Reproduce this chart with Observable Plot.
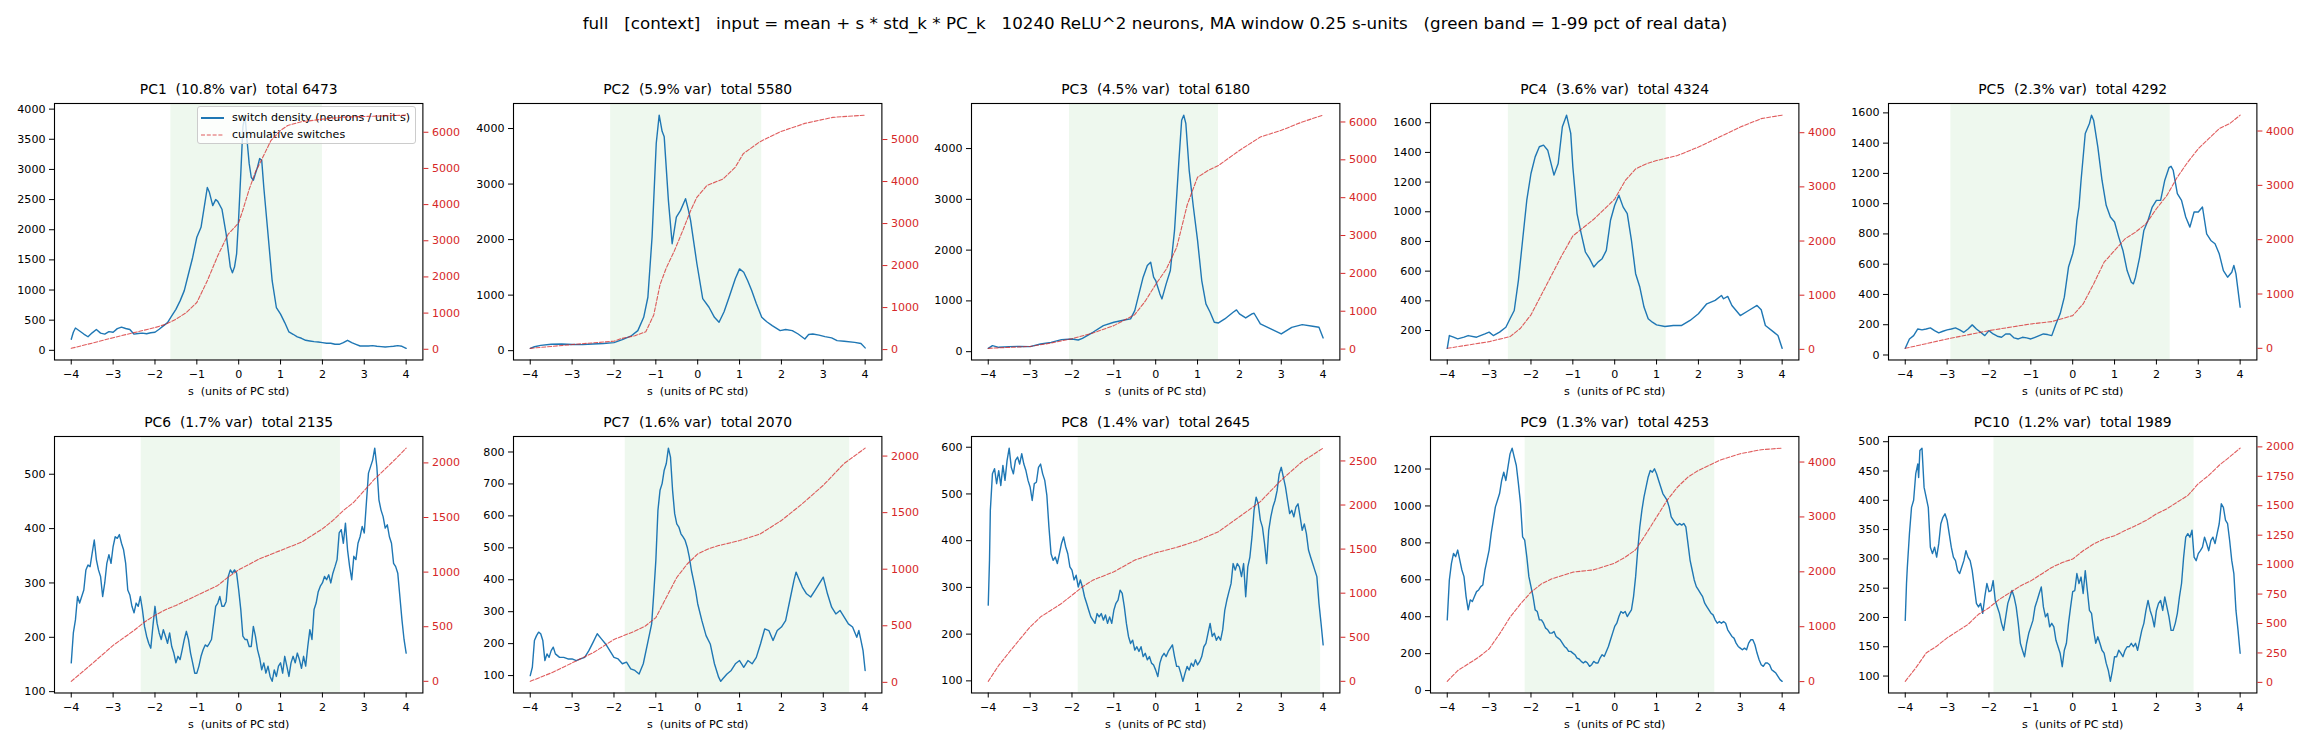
<!DOCTYPE html>
<html><head><meta charset="utf-8">
<script src="https://cdn.jsdelivr.net/npm/d3@7"></script>
<script src="https://cdn.jsdelivr.net/npm/@observablehq/plot@0.6"></script>
<style>
body{margin:0;background:#fff;font-family:"DejaVu Sans",sans-serif;}
#page{position:relative;width:2310px;height:748px;overflow:hidden;background:#fff;}
#title{position:absolute;left:0;width:2310px;top:13px;line-height:20px;text-align:center;font-size:16.7px;white-space:pre;color:#000;}
.holder{position:absolute;}
#legend{position:absolute;left:197px;top:106px;width:217px;height:36px;background:rgba(255,255,255,0.8);border:1px solid #cccccc;border-radius:3px;font-size:11.1px;color:#000;}
#legend .row{position:absolute;left:0;height:14px;line-height:14px;white-space:pre;}
#legend svg{position:absolute;left:3px;top:2px;}
#legend span{position:absolute;left:34px;top:0;}
</style></head><body>
<div id="page"><div id="title">full   [context]   input = mean + s * std_k * PC_k   10240 ReLU^2 neurons, MA window 0.25 s-units   (green band = 1-99 pct of real data)</div></div>
<script>
const titles = ["PC1  (10.8% var)  total 6473","PC2  (5.9% var)  total 5580","PC3  (4.5% var)  total 6180","PC4  (3.6% var)  total 4324","PC5  (2.3% var)  total 4292","PC6  (1.7% var)  total 2135","PC7  (1.6% var)  total 2070","PC8  (1.4% var)  total 2645","PC9  (1.3% var)  total 4253","PC10  (1.2% var)  total 1989"];
const xLabel = "s  (units of PC std)";
const sTicks = [-4,-3,-2,-1,0,1,2,3,4];
const legendLabels = ["switch density (neurons / unit s)","cumulative switches"];
const bands = [[-1.62,2.0],[-2.08,1.53],[-2.06,1.50],[-2.54,1.23],[-2.91,2.33],[-2.33,2.43],[-1.73,3.63],[-1.85,3.94],[-2.14,2.39],[-1.88,2.90]];
const leftTicks = [
 [0,500,1000,1500,2000,2500,3000,3500,4000],
 [0,1000,2000,3000,4000],
 [0,1000,2000,3000,4000],
 [200,400,600,800,1000,1200,1400,1600],
 [0,200,400,600,800,1000,1200,1400,1600],
 [100,200,300,400,500],
 [100,200,300,400,500,600,700,800],
 [100,200,300,400,500,600],
 [0,200,400,600,800,1000,1200],
 [100,150,200,250,300,350,400,450,500]];
const rightTicks = [
 [0,1000,2000,3000,4000,5000,6000],
 [0,1000,2000,3000,4000,5000],
 [0,1000,2000,3000,4000,5000,6000],
 [0,1000,2000,3000,4000],
 [0,1000,2000,3000,4000],
 [0,500,1000,1500,2000],
 [0,500,1000,1500,2000],
 [0,500,1000,1500,2000,2500],
 [0,1000,2000,3000,4000],
 [0,250,500,750,1000,1250,1500,1750,2000]];

const pc1Density = [[-4,183],[-3.95,300],[-3.9,370],[-3.8,320],[-3.7,270],[-3.6,225],[-3.5,290],[-3.4,345],[-3.3,285],[-3.2,268],[-3.1,310],[-3.0,300],[-2.9,360],[-2.8,385],[-2.7,362],[-2.6,345],[-2.5,268],[-2.4,278],[-2.3,285],[-2.2,275],[-2.1,292],[-2.0,300],[-1.9,350],[-1.8,405],[-1.7,460],[-1.6,570],[-1.5,680],[-1.4,820],[-1.3,990],[-1.2,1265],[-1.1,1540],[-1.0,1875],[-0.9,2040],[-0.8,2480],[-0.75,2700],[-0.7,2620],[-0.62,2400],[-0.55,2500],[-0.5,2470],[-0.4,2340],[-0.3,1930],[-0.2,1380],[-0.15,1285],[-0.1,1380],[-0.05,1600],[0.0,2210],[0.05,2930],[0.1,3700],[0.15,3900],[0.2,3480],[0.25,3100],[0.3,2870],[0.35,2820],[0.4,2930],[0.45,3040],[0.5,3180],[0.55,3150],[0.6,2700],[0.7,1930],[0.8,1150],[0.9,710],[1.0,600],[1.1,460],[1.2,305],[1.3,266],[1.4,222],[1.5,200],[1.6,166],[1.7,155],[1.8,144],[1.9,139],[2.0,128],[2.1,117],[2.2,117],[2.3,100],[2.4,100],[2.5,128],[2.6,166],[2.7,128],[2.8,100],[2.9,72],[3.0,72],[3.1,72],[3.2,78],[3.3,67],[3.4,61],[3.5,55],[3.6,61],[3.7,67],[3.8,78],[3.9,67],[4.0,33]];
const pc1Cumulative = [[-4,26],[-3.5,170],[-3,320],[-2.5,460],[-2,600],[-1.75,690],[-1.5,830],[-1.25,1016],[-1,1293],[-0.75,1893],[-0.5,2585],[-0.25,3186],[-0.1,3370],[0,3500],[0.1,3850],[0.25,4420],[0.4,4900],[0.53,5200],[0.77,5771],[1,6050],[1.17,6187],[1.5,6290],[2,6362],[2.5,6417],[3,6436],[3.5,6454],[4,6473]];

const pc2Density = [[-4,42],[-3.9,70],[-3.75,95],[-3.5,115],[-3.25,120],[-3,112],[-2.75,108],[-2.5,120],[-2.25,130],[-2,145],[-1.8,200],[-1.6,260],[-1.43,361],[-1.29,601],[-1.19,962],[-1.09,2045],[-0.99,3735],[-0.92,4241],[-0.85,3950],[-0.8,3850],[-0.7,2707],[-0.61,1925],[-0.51,2406],[-0.41,2526],[-0.29,2737],[-0.22,2526],[-0.17,2346],[-0.02,1570],[0.12,938],[0.27,782],[0.4,600],[0.51,511],[0.63,700],[0.75,962],[0.9,1300],[1.0,1473],[1.1,1413],[1.2,1250],[1.29,1083],[1.4,850],[1.53,601],[1.65,520],[1.78,451],[1.97,361],[2.1,380],[2.26,361],[2.4,300],[2.56,210],[2.65,290],[2.75,301],[2.9,280],[3.04,253],[3.2,230],[3.33,180],[3.5,170],[3.75,150],[3.9,130],[4,50]];
const pc2Cumulative = [[-4,30],[-3.5,75],[-3,120],[-2.5,160],[-2,200],[-1.82,264],[-1.5,330],[-1.24,424],[-1.05,824],[-0.9,1544],[-0.75,1944],[-0.56,2344],[-0.36,2824],[-0.17,3304],[-0.02,3624],[0.22,3904],[0.61,4064],[0.9,4344],[1.09,4664],[1.48,4944],[1.97,5184],[2.56,5384],[3.23,5528],[4,5580]];

const pc3Density = [[-4,66],[-3.9,118],[-3.75,86],[-3.5,99],[-3.25,105],[-3,99],[-2.75,151],[-2.5,184],[-2.25,237],[-2,250],[-1.85,230],[-1.75,263],[-1.5,382],[-1.25,513],[-1,579],[-0.75,625],[-0.6,645],[-0.5,809],[-0.4,1138],[-0.3,1467],[-0.2,1697],[-0.12,1763],[-0.05,1467],[0,1401],[0.1,1138],[0.15,1039],[0.25,1335],[0.35,1599],[0.45,2388],[0.55,3704],[0.62,4559],[0.67,4658],[0.72,4493],[0.8,3572],[0.9,2849],[1,2191],[1.1,1401],[1.2,941],[1.3,776],[1.4,579],[1.5,566],[1.65,645],[1.85,776],[1.93,822],[2,743],[2.15,664],[2.3,743],[2.35,757],[2.5,546],[2.75,447],[3,349],[3.25,480],[3.5,533],[3.75,500],[3.9,480],[4,270]];
const pc3Cumulative = [[-4,20],[-3,70],[-2.5,160],[-2,275],[-1.5,425],[-1,620],[-0.5,910],[-0.25,1265],[0,1708],[0.25,2106],[0.5,2681],[0.6,3124],[0.75,3800],[0.9,4250],[1,4540],[1.25,4717],[1.5,4850],[2,5248],[2.5,5602],[3,5779],[3.5,6000],[4,6180]];

const pc4Density = [[-4,80],[-3.95,166],[-3.85,155],[-3.75,144],[-3.6,155],[-3.5,166],[-3.3,155],[-3.1,177],[-3,189],[-2.9,166],[-2.75,189],[-2.6,222],[-2.5,279],[-2.4,335],[-2.3,538],[-2.2,808],[-2.1,1078],[-2,1258],[-1.9,1370],[-1.8,1438],[-1.7,1449],[-1.6,1415],[-1.5,1303],[-1.45,1247],[-1.35,1325],[-1.25,1573],[-1.15,1651],[-1.05,1528],[-1,1303],[-0.9,988],[-0.8,853],[-0.7,729],[-0.6,684],[-0.5,628],[-0.4,661],[-0.3,684],[-0.2,740],[-0.1,943],[0,1044],[0.1,1112],[0.2,1033],[0.3,988],[0.4,808],[0.5,583],[0.6,493],[0.7,358],[0.8,279],[0.9,256],[1,238],[1.2,227],[1.4,234],[1.6,234],[1.8,268],[2,313],[2.2,380],[2.4,403],[2.55,436],[2.6,414],[2.7,430],[2.8,369],[3,301],[3.2,335],[3.4,369],[3.5,340],[3.6,234],[3.8,189],[3.9,166],[4,80]];
const pc4Cumulative = [[-4,19],[-3.5,80],[-3,142],[-2.5,235],[-2.25,390],[-2,638],[-1.75,1009],[-1.5,1381],[-1.25,1752],[-1,2093],[-0.75,2248],[-0.5,2402],[-0.25,2588],[0,2774],[0.25,3115],[0.5,3331],[0.75,3424],[1,3486],[1.5,3579],[2,3734],[2.5,3920],[3,4105],[3.5,4260],[4,4324]];

const pc5Density = [[-4,44],[-3.9,106],[-3.8,128],[-3.7,172],[-3.6,166],[-3.5,172],[-3.4,179],[-3.3,161],[-3.2,146],[-3.1,157],[-3,166],[-2.9,172],[-2.8,179],[-2.7,166],[-2.6,150],[-2.5,172],[-2.4,199],[-2.3,172],[-2.2,150],[-2.1,128],[-2,161],[-1.9,139],[-1.8,124],[-1.7,117],[-1.6,139],[-1.5,139],[-1.4,113],[-1.3,106],[-1.2,117],[-1.1,113],[-1,106],[-0.9,117],[-0.8,128],[-0.7,139],[-0.6,135],[-0.5,128],[-0.4,205],[-0.3,272],[-0.2,382],[-0.1,581],[0,669],[0.05,735],[0.1,890],[0.15,978],[0.2,1155],[0.3,1464],[0.4,1530],[0.45,1585],[0.5,1552],[0.6,1375],[0.7,1155],[0.8,989],[0.9,912],[1,879],[1.1,779],[1.2,691],[1.3,558],[1.4,481],[1.45,470],[1.5,514],[1.6,647],[1.7,823],[1.8,890],[1.9,978],[2,1022],[2.1,1022],[2.2,1155],[2.3,1238],[2.35,1247],[2.4,1221],[2.5,1066],[2.6,1022],[2.7,912],[2.8,845],[2.9,945],[3,945],[3.1,978],[3.2,801],[3.3,757],[3.4,735],[3.5,669],[3.6,558],[3.7,514],[3.8,547],[3.85,592],[3.9,536],[4,316]];
const pc5Cumulative = [[-4,0],[-3,172],[-2,326],[-1,449],[-0.5,492],[0,602],[0.25,817],[0.5,1186],[0.75,1585],[1,1800],[1.25,2015],[1.5,2138],[1.75,2292],[2,2569],[2.25,2814],[2.5,3152],[2.75,3429],[3,3674],[3.25,3859],[3.5,4043],[3.75,4135],[4,4292]];

const pc6Density = [[-4,153],[-3.95,208],[-3.9,232],[-3.85,275],[-3.8,263],[-3.75,275],[-3.7,287],[-3.65,324],[-3.6,333],[-3.55,330],[-3.5,355],[-3.45,379],[-3.4,343],[-3.35,324],[-3.3,312],[-3.25,275],[-3.2,300],[-3.15,336],[-3.1,352],[-3.05,336],[-3,367],[-2.95,385],[-2.9,382],[-2.85,389],[-2.8,373],[-2.75,361],[-2.7,336],[-2.65,287],[-2.6,278],[-2.55,257],[-2.5,245],[-2.45,263],[-2.4,257],[-2.35,275],[-2.3,251],[-2.25,220],[-2.2,202],[-2.15,189],[-2.1,180],[-2.05,220],[-2,257],[-1.95,226],[-1.9,208],[-1.85,196],[-1.8,214],[-1.75,202],[-1.7,189],[-1.65,208],[-1.6,183],[-1.55,171],[-1.5,153],[-1.45,165],[-1.4,159],[-1.35,177],[-1.3,196],[-1.25,211],[-1.2,196],[-1.15,171],[-1.1,153],[-1.05,134],[-1,134],[-0.95,147],[-0.9,165],[-0.85,177],[-0.8,186],[-0.75,183],[-0.7,189],[-0.65,196],[-0.6,226],[-0.55,257],[-0.5,263],[-0.45,275],[-0.4,257],[-0.35,257],[-0.3,266],[-0.25,312],[-0.2,324],[-0.15,318],[-0.1,324],[-0.05,318],[0,287],[0.05,251],[0.1,202],[0.15,196],[0.2,196],[0.25,183],[0.3,183],[0.35,220],[0.4,202],[0.45,177],[0.5,162],[0.55,140],[0.6,153],[0.65,134],[0.7,147],[0.75,128],[0.8,119],[0.85,140],[0.9,128],[0.95,147],[1,153],[1.05,134],[1.1,165],[1.15,147],[1.2,128],[1.25,153],[1.3,165],[1.35,153],[1.4,171],[1.45,159],[1.5,143],[1.55,165],[1.6,147],[1.65,183],[1.7,214],[1.75,196],[1.8,251],[1.85,263],[1.9,284],[1.95,294],[2,300],[2.05,312],[2.1,306],[2.15,315],[2.2,300],[2.25,318],[2.3,330],[2.35,343],[2.4,392],[2.45,398],[2.5,373],[2.55,410],[2.6,361],[2.65,330],[2.7,306],[2.75,349],[2.8,343],[2.85,373],[2.9,385],[2.95,404],[3,392],[3.05,447],[3.1,502],[3.15,514],[3.2,526],[3.25,548],[3.3,514],[3.35,453],[3.4,434],[3.45,422],[3.5,401],[3.55,407],[3.6,385],[3.65,373],[3.7,336],[3.75,330],[3.8,318],[3.85,275],[3.9,232],[3.95,196],[4,171]];
const pc6Cumulative = [[-4,0],[-3.5,162],[-3,329],[-2.5,466],[-2.25,543],[-2,604],[-1.75,656],[-1.5,695],[-1,787],[-0.5,878],[-0.25,954],[0,1021],[0.5,1122],[1,1198],[1.5,1274],[2,1396],[2.25,1473],[2.5,1564],[2.75,1640],[3,1747],[3.25,1854],[3.5,1945],[3.75,2037],[4,2135]];

const pc7Density = [[-4,100],[-3.95,126],[-3.9,210],[-3.85,225],[-3.8,236],[-3.75,231],[-3.7,210],[-3.65,147],[-3.6,168],[-3.55,157],[-3.5,178],[-3.45,189],[-3.4,168],[-3.3,157],[-3.2,157],[-3.1,152],[-3,152],[-2.9,147],[-2.8,152],[-2.7,157],[-2.6,178],[-2.5,204],[-2.4,231],[-2.3,215],[-2.2,199],[-2.1,178],[-2,157],[-1.9,152],[-1.8,137],[-1.7,142],[-1.6,121],[-1.5,116],[-1.4,105],[-1.3,137],[-1.2,199],[-1.1,262],[-1.05,356],[-1,460],[-0.95,617],[-0.9,680],[-0.85,701],[-0.8,743],[-0.75,764],[-0.7,812],[-0.65,784],[-0.6,680],[-0.55,607],[-0.5,575],[-0.45,565],[-0.4,544],[-0.35,534],[-0.3,523],[-0.25,502],[-0.2,471],[-0.15,429],[-0.1,398],[-0.05,366],[0,325],[0.1,272],[0.2,225],[0.3,199],[0.4,137],[0.5,95],[0.55,82],[0.6,90],[0.7,105],[0.8,116],[0.9,137],[1,147],[1.1,126],[1.2,147],[1.3,137],[1.4,157],[1.5,199],[1.6,246],[1.7,241],[1.8,210],[1.9,241],[2,252],[2.1,272],[2.2,335],[2.3,398],[2.35,424],[2.4,408],[2.5,377],[2.6,356],[2.7,346],[2.8,366],[2.9,387],[3,408],[3.1,356],[3.2,314],[3.3,293],[3.4,304],[3.5,283],[3.6,262],[3.7,252],[3.8,220],[3.85,241],[3.9,210],[3.95,178],[4,116]];
const pc7Cumulative = [[-4,9],[-3.5,83],[-3,172],[-2.5,261],[-2,379],[-1.5,453],[-1.25,498],[-1,572],[-0.75,750],[-0.5,927],[-0.25,1046],[0,1135],[0.25,1179],[0.5,1209],[1,1253],[1.5,1313],[2,1431],[2.5,1579],[3,1742],[3.5,1935],[4,2070]];

const pc8Density = [[-4,262],[-3.97,358],[-3.95,465],[-3.9,543],[-3.85,554],[-3.8,522],[-3.75,550],[-3.7,518],[-3.65,561],[-3.6,529],[-3.55,572],[-3.5,598],[-3.45,557],[-3.4,543],[-3.35,572],[-3.3,579],[-3.25,564],[-3.2,586],[-3.15,564],[-3.1,550],[-3.05,529],[-3,515],[-2.95,486],[-2.9,522],[-2.85,525],[-2.8,557],[-2.75,564],[-2.7,543],[-2.65,529],[-2.6,497],[-2.55,429],[-2.5,372],[-2.45,358],[-2.4,365],[-2.35,351],[-2.3,372],[-2.25,394],[-2.2,408],[-2.15,387],[-2.1,372],[-2.05,344],[-2,337],[-1.95,316],[-1.9,326],[-1.85,301],[-1.8,316],[-1.75,301],[-1.7,280],[-1.65,266],[-1.6,251],[-1.55,237],[-1.5,230],[-1.45,223],[-1.4,244],[-1.35,237],[-1.3,244],[-1.25,230],[-1.2,241],[-1.15,223],[-1.1,237],[-1.05,223],[-1,251],[-0.95,266],[-0.9,273],[-0.85,294],[-0.8,287],[-0.75,259],[-0.7,223],[-0.65,195],[-0.6,180],[-0.55,187],[-0.5,166],[-0.45,173],[-0.4,163],[-0.35,173],[-0.3,152],[-0.25,159],[-0.2,145],[-0.15,152],[-0.1,138],[-0.05,134],[0,123],[0.05,109],[0.1,138],[0.15,152],[0.2,159],[0.25,152],[0.3,163],[0.35,170],[0.4,177],[0.45,152],[0.5,131],[0.55,131],[0.6,116],[0.65,99],[0.7,116],[0.75,131],[0.8,123],[0.85,138],[0.9,131],[0.95,145],[1,134],[1.05,141],[1.1,152],[1.15,173],[1.2,180],[1.25,202],[1.3,223],[1.35,195],[1.4,202],[1.45,187],[1.5,195],[1.55,187],[1.6,209],[1.65,251],[1.7,273],[1.75,291],[1.8,308],[1.85,351],[1.9,337],[1.95,351],[2,344],[2.05,323],[2.1,351],[2.15,280],[2.2,344],[2.25,365],[2.3,408],[2.35,465],[2.4,493],[2.45,479],[2.5,444],[2.55,429],[2.6,394],[2.65,351],[2.7,422],[2.75,451],[2.8,472],[2.85,486],[2.9,507],[2.95,543],[3,557],[3.05,536],[3.1,515],[3.15,486],[3.2,458],[3.25,465],[3.3,451],[3.35,472],[3.4,479],[3.45,451],[3.5,422],[3.55,436],[3.6,415],[3.65,380],[3.7,365],[3.75,351],[3.8,337],[3.85,323],[3.9,266],[3.95,223],[4,177]];
const pc8Cumulative = [[-4,0],[-3.75,180],[-3.5,330],[-3.25,475],[-3,617],[-2.75,731],[-2.5,807],[-2.25,883],[-2,977],[-1.75,1072],[-1.5,1148],[-1,1242],[-0.5,1375],[0,1458],[0.5,1519],[1,1595],[1.5,1697],[2,1867],[2.5,2038],[3,2284],[3.5,2492],[4,2645]];

const pc9Density = [[-4,383],[-3.95,599],[-3.9,689],[-3.85,743],[-3.8,725],[-3.75,761],[-3.7,707],[-3.65,653],[-3.6,617],[-3.55,509],[-3.5,437],[-3.45,491],[-3.4,482],[-3.35,509],[-3.3,536],[-3.25,545],[-3.2,563],[-3.15,572],[-3.1,653],[-3.05,707],[-3,761],[-2.95,851],[-2.9,923],[-2.85,995],[-2.8,1031],[-2.75,1067],[-2.7,1138],[-2.65,1183],[-2.6,1138],[-2.55,1210],[-2.5,1282],[-2.45,1313],[-2.4,1264],[-2.35,1219],[-2.3,1121],[-2.25,1013],[-2.2,833],[-2.15,815],[-2.1,725],[-2.05,617],[-2,563],[-1.95,509],[-1.9,437],[-1.85,428],[-1.8,383],[-1.75,383],[-1.7,365],[-1.65,338],[-1.6,329],[-1.55,311],[-1.5,311],[-1.45,320],[-1.4,293],[-1.35,284],[-1.3,275],[-1.25,257],[-1.2,239],[-1.15,230],[-1.1,212],[-1.05,212],[-1,203],[-0.95,194],[-0.9,176],[-0.85,171],[-0.8,158],[-0.75,149],[-0.7,158],[-0.65,149],[-0.6,131],[-0.55,140],[-0.5,158],[-0.45,149],[-0.4,149],[-0.35,176],[-0.3,194],[-0.25,185],[-0.2,212],[-0.15,239],[-0.1,275],[-0.05,311],[0,347],[0.05,365],[0.1,401],[0.15,428],[0.2,419],[0.25,428],[0.3,401],[0.35,419],[0.4,437],[0.45,509],[0.5,617],[0.55,761],[0.6,887],[0.65,977],[0.7,1049],[0.75,1103],[0.8,1157],[0.85,1192],[0.9,1183],[0.95,1201],[1,1174],[1.05,1138],[1.1,1103],[1.15,1067],[1.2,1049],[1.25,1031],[1.3,995],[1.35,941],[1.4,923],[1.45,905],[1.5,896],[1.55,905],[1.6,896],[1.65,905],[1.7,887],[1.75,797],[1.8,707],[1.85,653],[1.9,599],[1.95,563],[2,545],[2.05,527],[2.1,509],[2.15,473],[2.2,455],[2.25,437],[2.3,419],[2.35,410],[2.4,383],[2.45,365],[2.5,374],[2.55,365],[2.6,374],[2.65,365],[2.7,329],[2.75,311],[2.8,293],[2.85,284],[2.9,257],[2.95,239],[3,230],[3.05,221],[3.1,230],[3.15,221],[3.2,257],[3.25,275],[3.3,275],[3.35,248],[3.4,203],[3.45,167],[3.5,140],[3.55,131],[3.6,149],[3.65,149],[3.7,140],[3.75,113],[3.8,104],[3.85,95],[3.9,77],[3.95,59],[4,50]];
const pc9Cumulative = [[-4,5],[-3.75,201],[-3.5,322],[-3.25,444],[-3,596],[-2.75,869],[-2.5,1173],[-2.25,1416],[-2,1629],[-1.75,1781],[-1.5,1872],[-1.25,1933],[-1,1994],[-0.5,2036],[0,2158],[0.25,2267],[0.5,2401],[0.75,2693],[1,2997],[1.25,3301],[1.5,3544],[1.75,3726],[2,3848],[2.5,4030],[3,4152],[3.5,4225],[4,4253]];

const pc10Density = [[-4,195],[-3.97,258],[-3.95,286],[-3.9,343],[-3.85,388],[-3.8,400],[-3.75,445],[-3.7,462],[-3.68,439],[-3.65,485],[-3.6,489],[-3.55,422],[-3.5,405],[-3.45,388],[-3.4,320],[-3.35,309],[-3.3,320],[-3.25,303],[-3.2,326],[-3.15,360],[-3.1,371],[-3.05,377],[-3,366],[-2.95,343],[-2.9,320],[-2.85,303],[-2.8,297],[-2.75,280],[-2.7,275],[-2.65,286],[-2.6,297],[-2.55,314],[-2.5,303],[-2.45,297],[-2.4,280],[-2.35,252],[-2.3,224],[-2.25,218],[-2.2,224],[-2.15,207],[-2.1,235],[-2.05,258],[-2,244],[-1.95,246],[-1.9,263],[-1.85,229],[-1.8,218],[-1.75,207],[-1.7,190],[-1.65,178],[-1.6,201],[-1.55,224],[-1.5,235],[-1.45,246],[-1.4,235],[-1.35,218],[-1.3,190],[-1.25,156],[-1.2,144],[-1.15,133],[-1.1,156],[-1.05,173],[-1,184],[-0.95,195],[-0.9,218],[-0.85,229],[-0.8,241],[-0.75,252],[-0.7,218],[-0.65,201],[-0.6,207],[-0.55,184],[-0.5,190],[-0.45,184],[-0.4,161],[-0.35,150],[-0.3,139],[-0.25,116],[-0.2,144],[-0.15,156],[-0.1,190],[-0.05,218],[0,244],[0.05,246],[0.1,275],[0.15,258],[0.2,269],[0.25,241],[0.3,280],[0.35,246],[0.4,212],[0.45,207],[0.5,178],[0.55,156],[0.6,167],[0.65,156],[0.7,144],[0.75,139],[0.8,122],[0.85,110],[0.9,91],[0.95,110],[1,133],[1.05,133],[1.1,144],[1.15,139],[1.2,133],[1.25,144],[1.3,150],[1.35,150],[1.4,156],[1.45,150],[1.5,156],[1.55,144],[1.6,161],[1.65,178],[1.7,190],[1.75,212],[1.8,229],[1.85,212],[1.9,201],[1.95,184],[2,212],[2.05,224],[2.1,229],[2.15,212],[2.2,235],[2.25,218],[2.3,201],[2.35,178],[2.4,178],[2.45,190],[2.5,207],[2.55,235],[2.6,258],[2.65,303],[2.7,337],[2.75,343],[2.8,337],[2.85,349],[2.9,303],[2.95,297],[3,309],[3.05,314],[3.1,320],[3.15,337],[3.2,326],[3.25,314],[3.3,331],[3.35,337],[3.4,326],[3.45,343],[3.5,360],[3.55,394],[3.6,388],[3.65,366],[3.7,360],[3.75,331],[3.8,297],[3.85,275],[3.9,212],[3.95,178],[4,139]];
const pc10Cumulative = [[-4,9],[-3.75,122],[-3.5,250],[-3.25,307],[-3,378],[-2.75,435],[-2.5,492],[-2.25,578],[-2,634],[-1.75,706],[-1.5,762],[-1.25,819],[-1,862],[-0.75,919],[-0.5,976],[-0.25,1018],[0,1047],[0.25,1118],[0.5,1175],[0.75,1218],[1,1246],[1.25,1289],[1.5,1331],[1.75,1374],[2,1431],[2.25,1474],[2.5,1531],[2.75,1587],[3,1687],[3.25,1758],[3.5,1844],[3.75,1915],[4,1989]];

const densities = [pc1Density,pc2Density,pc3Density,pc4Density,pc5Density,pc6Density,pc7Density,pc8Density,pc9Density,pc10Density];
const cumulatives = [pc1Cumulative,pc2Cumulative,pc3Cumulative,pc4Cumulative,pc5Cumulative,pc6Cumulative,pc7Cumulative,pc8Cumulative,pc9Cumulative,pc10Cumulative];

const page = document.getElementById("page");
const W = 368.4, H = 256.5, mL = 60, mR = 60, mT = 40, mB = 50;
const colX = c => 54 + c * 458.6;
const rowY = [103, 436.3];
const padDomain = vals => { const [lo, hi] = d3.extent(vals); const r = hi - lo; return [lo - 0.05 * r, hi + 0.05 * r]; };
const fmt = d => d < 0 ? "\u2212" + Math.abs(d) : String(d);
const BLUE = "#1f77b4", RED = "#d62728";

function place(svg, L, T) {
  const div = document.createElement("div");
  div.className = "holder";
  div.style.left = (L - mL) + "px";
  div.style.top = (T - mT) + "px";
  div.style.width = (W + mL + mR) + "px";
  div.style.height = (H + mT + mB) + "px";
  div.appendChild(svg);
  page.appendChild(div);
}

titles.forEach((title, i) => {
  const L = colX(i % 5), T = rowY[Math.floor(i / 5)];
  const common = {
    width: W + mL + mR, height: H + mT + mB,
    marginLeft: mL, marginRight: mR, marginTop: mT, marginBottom: mB,
    style: {fontFamily: "DejaVu Sans", fontSize: "11.1px", background: "transparent", overflow: "visible", color: "#000"}
  };
  const a = Plot.plot({
    ...common,
    x: {domain: [-4.4, 4.4]},
    y: {domain: padDomain(densities[i].map(d => d[1]))},
    marks: [
      Plot.rect([bands[i]], {x1: d => d[0], x2: d => d[1], fill: "#2ca02c", fillOpacity: 0.08}),
      Plot.line(densities[i], {x: d => d[0], y: d => d[1], stroke: BLUE, strokeWidth: 1.4}),
      Plot.frame({stroke: "#000", strokeWidth: 1.1}),
      Plot.axisY({ticks: leftTicks[i], tickFormat: fmt, tickSize: 5, tickPadding: 4, label: null}),
      Plot.axisX({ticks: sTicks, tickFormat: fmt, tickSize: 5, tickPadding: 5, label: null}),
      Plot.text([title], {frameAnchor: "top", dy: -14, text: d => d, fontSize: 13.9, lineAnchor: "middle", fill: "#000"}),
      Plot.text([xLabel], {frameAnchor: "bottom", dy: 31, text: d => d, fontSize: 11.1, lineAnchor: "middle", fill: "#000"})
    ]
  });
  place(a, L, T);
  if (i === 0) {
    const lg = document.createElement("div");
    lg.id = "legend";
    lg.innerHTML =
      `<div class="row" style="top:4px;width:217px"><svg width="26" height="10"><line x1="0" y1="5" x2="23" y2="5" stroke="${BLUE}" stroke-width="2"/></svg><span>${legendLabels[0]}</span></div>` +
      `<div class="row" style="top:21px;width:217px"><svg width="26" height="10"><line x1="0" y1="5" x2="23" y2="5" stroke="${RED}" stroke-opacity="0.75" stroke-width="1.2" stroke-dasharray="4,1.8"/></svg><span>${legendLabels[1]}</span></div>`;
    page.appendChild(lg);
  }
  const b = Plot.plot({
    ...common,
    x: {domain: [-4.4, 4.4], axis: null},
    y: {domain: padDomain(cumulatives[i].map(d => d[1]))},
    marks: [
      Plot.line(cumulatives[i], {x: d => d[0], y: d => d[1], stroke: RED, strokeOpacity: 0.75, strokeWidth: 1.1, strokeDasharray: "4,1.8"}),
      Plot.axisY({anchor: "right", ticks: rightTicks[i], tickFormat: fmt, tickSize: 5, tickPadding: 4, color: RED, label: null})
    ]
  });
  place(b, L, T);
});
</script>
</body></html>
